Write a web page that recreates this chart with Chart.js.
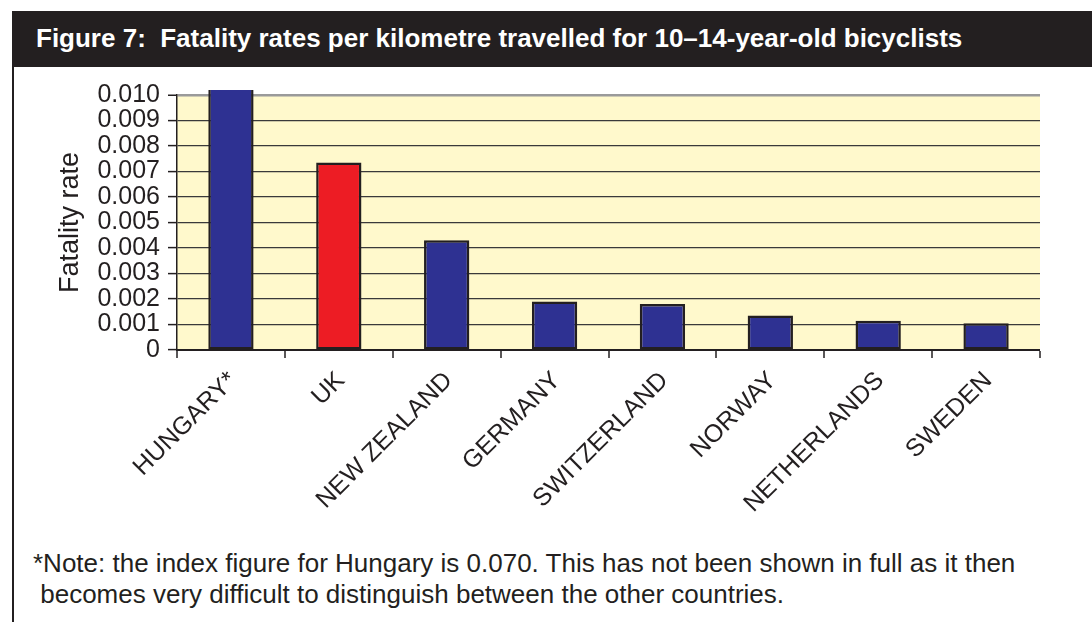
<!DOCTYPE html>
<html>
<head>
<meta charset="utf-8">
<script src="https://cdn.jsdelivr.net/npm/chart.js"></script>
<style>
  body { margin: 0; background: #fff; font-family: 'Liberation Sans', Arial, sans-serif; color: #231f20; }
  .page { position: relative; width: 1092px; height: 622px; overflow: hidden; }
  .header { position: absolute; left: 12px; top: 11px; width: 1080px; height: 56px; background: #231f20; }
  .header h1 { margin: 0; position: absolute; left: 24px; top: 12px; font-size: 26px; line-height: 30px; font-weight: 700; color: #fff; white-space: nowrap; }
  .rule { position: absolute; left: 12px; top: 67px; width: 2px; height: 555px; background: #231f20; }
  .chart-box { position: absolute; left: 0; top: 0; width: 1092px; height: 535px; }
  .note { position: absolute; left: 33px; top: 548px; font-size: 26px; line-height: 31px; white-space: pre; }
</style>
</head>
<body>
<div class="page">
  <div class="chart-box"><canvas id="chart"></canvas></div>
  <div class="header"><h1>Figure 7:&nbsp; Fatality rates per kilometre travelled for 10–14-year-old bicyclists</h1></div>
  <div class="rule"></div>
  <div class="note">*Note: the index figure for Hungary is 0.070. This has not been shown in full as it then
 becomes very difficult to distinguish between the other countries.</div>
</div>
<script>
// countries, left to right
const countries = ['HUNGARY*', 'UK', 'NEW ZEALAND', 'GERMANY', 'SWITZERLAND', 'NORWAY', 'NETHERLANDS', 'SWEDEN'];
// fatality rate per km travelled (Hungary is 0.070, cut off at the top of the plot)
const fatalityRates = [0.070, 0.00735, 0.0043, 0.0019, 0.0018, 0.00135, 0.00115, 0.00105];
const barColors = ['#2e3192', '#ed1c24', '#2e3192', '#2e3192', '#2e3192', '#2e3192', '#2e3192', '#2e3192'];
const yMin = 0;
const yMax = 0.010;
const yStep = 0.001;

const INK = '#231f20';

const plotBg = {
  id: 'plotBg',
  beforeDraw(chart) {
    const { ctx, chartArea: a } = chart;
    ctx.save();
    ctx.fillStyle = '#fff9cc';
    ctx.fillRect(a.left, a.top, a.right - a.left, a.bottom - a.top);
    ctx.restore();
  }
};

new Chart(document.getElementById('chart'), {
  type: 'bar',
  data: {
    labels: countries,
    datasets: [{
      data: fatalityRates,
      backgroundColor: barColors,
      borderColor: INK,
      borderWidth: 2.5,
      borderSkipped: false,
      barPercentage: 0.84,
      categoryPercentage: 0.5,
      clip: { left: 0, top: 5, right: 0, bottom: 0 }
    }]
  },
  options: {
    responsive: true,
    maintainAspectRatio: false,
    animation: false,
    layout: { padding: { top: 95, right: 52, left: 0, bottom: 0 } },
    plugins: {
      legend: { display: false },
      tooltip: { enabled: false }
    },
    scales: {
      x: {
        afterFit(scale) { scale.height = 185; },
        border: { display: true, color: INK, width: 2 },
        grid: {
          offset: true,
          drawOnChartArea: true,
          drawTicks: true,
          tickLength: 8,
          tickColor: INK,
          tickWidth: 1.5,
          color: c => c.index === countries.length ? '#9a9a9a' : 'rgba(0,0,0,0)',
          lineWidth: c => c.index === countries.length ? 2.5 : 0
        },
        ticks: {
          color: INK,
          font: { family: 'Liberation Sans', size: 25 },
          minRotation: 45,
          maxRotation: 45,
          autoSkip: false,
          padding: 8,
          labelOffset: 2
        }
      },
      y: {
        min: yMin,
        max: yMax,
        afterFit(scale) { scale.width = 177; },
        border: { display: true, color: INK, width: 1.5 },
        grid: {
          drawTicks: true,
          tickLength: 9,
          tickColor: INK,
          tickWidth: 1.5,
          color: c => c.tick && c.tick.value >= yMax - 1e-9 ? '#9a9a9a' : '#3a3a3a',
          lineWidth: c => c.tick && c.tick.value >= yMax - 1e-9 ? 2.5 : 1.2
        },
        ticks: {
          stepSize: yStep,
          autoSkip: false,
          color: INK,
          padding: 8,
          font: { family: 'Liberation Sans', size: 25, lineHeight: 1 },
          callback: v => v === 0 ? '0' : v.toFixed(3)
        },
        title: {
          display: true,
          text: 'Fatality rate',
          color: INK,
          font: { family: 'Liberation Sans', size: 27, lineHeight: 1.2 },
          padding: { top: 54, bottom: 0 }
        }
      }
    }
  },
  plugins: [plotBg]
});
</script>
</body>
</html>
